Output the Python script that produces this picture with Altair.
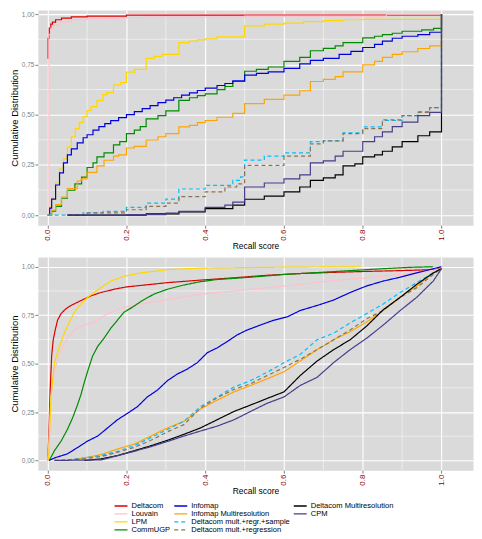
import altair as alt
import pandas as pd

SERIES = ["Deltacom", "Louvain", "LPM", "CommUGP", "Infomap", "Infomap Multiresolution",
          "Deltacom mult.+regr.+sample", "Deltacom mult.+regression",
          "Deltacom Multiresolution", "CPM"]
COLORS = ["#DD0000", "#FFC0CB", "#FFD700", "#008B00", "#0000DD", "#FFA500",
          "#00BFFF", "#8B7355", "#000000", "#483D8B"]
DASHED = ["Deltacom mult.+regr.+sample", "Deltacom mult.+regression"]
LEGEND_ROWS = 4  # ggplot legend: filled column by column, 4 rows

X_MAJOR = [0.0, 0.2, 0.4, 0.6, 0.8, 1.0]
X_MINOR = [0.1, 0.3, 0.5, 0.7, 0.9]
Y_MAJOR = [0.0, 0.25, 0.5, 0.75, 1.0]
Y_MINOR = [0.125, 0.375, 0.625, 0.875]

# ---------------- top panel (step curves) ----------------
TOP_DELTACOM = [(0, 0.78), (0.001, 0.88), (0.004, 0.93), (0.008, 0.95), (0.012, 0.96), (0.02, 0.972),
                (0.035, 0.98), (0.06, 0.986), (0.1, 0.99), (0.2, 0.995), (1.0, 1.0)]
TOP_LOUVAIN = [(0, 0), (0.003, 0.9), (0.008, 0.93), (0.015, 0.945), (0.03, 0.96), (0.06, 0.972),
               (0.1, 0.978), (0.18, 0.982), (0.25, 0.985), (0.5, 0.99), (0.86, 0.997), (1.0, 1.0)]
TOP_LPM = [(0, 0), (0.005, 0.04), (0.01, 0.084), (0.02, 0.16), (0.03, 0.23), (0.04, 0.28), (0.05, 0.34),
           (0.06, 0.39), (0.07, 0.43), (0.08, 0.46), (0.09, 0.49), (0.1, 0.52), (0.11, 0.54), (0.125, 0.57),
           (0.14, 0.6), (0.15, 0.61), (0.167, 0.648), (0.185, 0.66), (0.2, 0.712), (0.22, 0.725),
           (0.25, 0.78), (0.27, 0.79), (0.29, 0.80), (0.333, 0.858), (0.36, 0.866), (0.38, 0.872),
           (0.4, 0.877), (0.43, 0.887), (0.5, 0.942), (0.55, 0.95), (0.6, 0.955), (0.65, 0.963),
           (0.7, 0.968), (0.75, 0.972), (0.8, 0.974), (1.0, 1.0)]
TOP_COMMUGP = [(0, 0), (0.01, 0.02), (0.02, 0.044), (0.035, 0.084), (0.05, 0.124), (0.069, 0.156),
               (0.086, 0.189), (0.1, 0.237), (0.115, 0.26), (0.125, 0.29), (0.143, 0.31), (0.167, 0.35),
               (0.183, 0.366), (0.2, 0.406), (0.22, 0.423), (0.235, 0.44), (0.25, 0.479), (0.28, 0.495),
               (0.3, 0.519), (0.333, 0.571), (0.36, 0.584), (0.38, 0.595), (0.4, 0.603), (0.43, 0.624),
               (0.45, 0.64), (0.47, 0.665), (0.5, 0.716), (0.53, 0.725), (0.56, 0.737), (0.6, 0.765),
               (0.64, 0.785), (0.667, 0.818), (0.7, 0.83), (0.73, 0.842), (0.75, 0.858), (0.8, 0.882),
               (0.83, 0.89), (0.85, 0.898), (0.875, 0.905), (0.9, 0.915), (0.95, 0.922), (0.98, 0.929),
               (1.0, 1.0)]
TOP_INFOMAP = [(0, 0), (0.005, 0.035), (0.01, 0.08), (0.02, 0.15), (0.03, 0.21), (0.04, 0.26), (0.05, 0.3),
               (0.06, 0.33), (0.075, 0.36), (0.09, 0.385), (0.1, 0.4), (0.115, 0.423), (0.13, 0.44),
               (0.145, 0.455), (0.16, 0.47), (0.18, 0.485), (0.2, 0.5), (0.22, 0.515), (0.24, 0.53),
               (0.26, 0.545), (0.28, 0.56), (0.3, 0.572), (0.32, 0.584), (0.34, 0.597), (0.36, 0.608),
               (0.38, 0.62), (0.4, 0.632), (0.43, 0.645), (0.45, 0.655), (0.47, 0.668), (0.5, 0.697),
               (0.53, 0.705), (0.56, 0.713), (0.6, 0.73), (0.64, 0.753), (0.667, 0.77), (0.7, 0.78),
               (0.74, 0.80), (0.77, 0.815), (0.8, 0.834), (0.83, 0.85), (0.85, 0.866), (0.875, 0.88),
               (0.9, 0.89), (0.94, 0.898), (0.97, 0.91), (1.0, 1.0)]
TOP_INFOMAP_MULTI = [(0, 0), (0.01, 0.025), (0.02, 0.052), (0.035, 0.09), (0.05, 0.132), (0.075, 0.17),
                     (0.085, 0.18), (0.1, 0.213), (0.125, 0.245), (0.143, 0.273), (0.167, 0.294),
                     (0.18, 0.3), (0.2, 0.334), (0.22, 0.342), (0.25, 0.374), (0.28, 0.39), (0.3, 0.406),
                     (0.333, 0.439), (0.36, 0.447), (0.38, 0.46), (0.4, 0.471), (0.43, 0.487),
                     (0.47, 0.506), (0.5, 0.555), (0.55, 0.576), (0.6, 0.597), (0.64, 0.619),
                     (0.667, 0.665), (0.7, 0.675), (0.73, 0.689), (0.75, 0.713), (0.8, 0.748),
                     (0.83, 0.765), (0.85, 0.785), (0.875, 0.8), (0.9, 0.813), (0.94, 0.829),
                     (0.97, 0.842), (1.0, 1.0)]
TOP_DM_REGR_SAMPLE = [(0, 0), (0.09, 0.011), (0.14, 0.019), (0.2, 0.039), (0.25, 0.06), (0.3, 0.08),
                      (0.333, 0.13), (0.4, 0.148), (0.47, 0.173), (0.49, 0.19), (0.5, 0.274), (0.55, 0.294),
                      (0.6, 0.31), (0.667, 0.366), (0.7, 0.37), (0.75, 0.41), (0.8, 0.439), (0.85, 0.471),
                      (0.9, 0.495), (0.94, 0.515), (0.97, 0.535), (1.0, 1.0)]
TOP_DM_REGR = [(0.05, 0), (0.1, 0.011), (0.2, 0.027), (0.25, 0.044), (0.3, 0.06), (0.333, 0.092),
               (0.4, 0.116), (0.45, 0.14), (0.48, 0.156), (0.5, 0.248), (0.6, 0.294), (0.667, 0.355),
               (0.7, 0.37), (0.75, 0.406), (0.8, 0.43), (0.85, 0.474), (0.9, 0.495), (0.94, 0.511),
               (0.97, 0.535), (1.0, 1.0)]
TOP_DM = [(0.05, 0), (0.25, 0.006), (0.333, 0.016), (0.4, 0.032), (0.47, 0.05), (0.5, 0.079),
          (0.55, 0.095), (0.6, 0.116), (0.64, 0.14), (0.667, 0.173), (0.7, 0.185), (0.73, 0.2),
          (0.75, 0.245), (0.78, 0.255), (0.8, 0.29), (0.83, 0.3), (0.85, 0.318), (0.875, 0.34),
          (0.9, 0.366), (0.94, 0.395), (0.97, 0.414), (1.0, 1.0)]
TOP_CPM = [(0.05, 0), (0.2, 0.003), (0.3, 0.01), (0.333, 0.019), (0.4, 0.039), (0.45, 0.05),
           (0.47, 0.065), (0.5, 0.14), (0.55, 0.16), (0.6, 0.18), (0.64, 0.2), (0.667, 0.26),
           (0.7, 0.27), (0.73, 0.294), (0.75, 0.318), (0.8, 0.366), (0.83, 0.39), (0.85, 0.414),
           (0.875, 0.44), (0.9, 0.463), (0.94, 0.495), (0.97, 0.511), (1.0, 1.0)]

# ---------------- bottom panel ----------------
BOT_DELTACOM = [(0, 0), (0.003, 0.135), (0.006, 0.354), (0.01, 0.539), (0.014, 0.623), (0.019, 0.673),
                (0.025, 0.724), (0.034, 0.758), (0.046, 0.783), (0.059, 0.80), (0.084, 0.825),
                (0.11, 0.85), (0.135, 0.867), (0.169, 0.884), (0.2, 0.896), (0.262, 0.909),
                (0.304, 0.918), (0.388, 0.931), (0.473, 0.943), (0.557, 0.956), (0.641, 0.965),
                (0.726, 0.971), (0.81, 0.976), (0.895, 0.98), (0.979, 0.985), (1.0, 0.99)]
BOT_LOUVAIN = [(0, 0), (0.004, 0.135), (0.008, 0.32), (0.015, 0.438), (0.025, 0.52), (0.038, 0.589),
               (0.05, 0.631), (0.067, 0.673), (0.093, 0.699), (0.118, 0.715), (0.152, 0.758),
               (0.194, 0.791), (0.236, 0.808), (0.287, 0.825), (0.346, 0.845), (0.405, 0.862),
               (0.473, 0.875), (0.557, 0.892), (0.641, 0.909), (0.726, 0.929), (0.81, 0.943),
               (0.895, 0.96), (0.962, 0.976), (1.0, 0.99)]
BOT_LPM = [(0, 0), (0.003, 0.034), (0.004, 0.1), (0.008, 0.32), (0.017, 0.505), (0.03, 0.589),
           (0.042, 0.657), (0.055, 0.715), (0.068, 0.766), (0.084, 0.808), (0.101, 0.842),
           (0.118, 0.867), (0.135, 0.892), (0.16, 0.926), (0.194, 0.951), (0.236, 0.968),
           (0.304, 0.985), (0.388, 0.993), (0.608, 0.998), (0.795, 1.0)]
BOT_COMMUGP = [(0.004, 0), (0.017, 0.05), (0.034, 0.10), (0.05, 0.16), (0.063, 0.219), (0.074, 0.278),
               (0.084, 0.337), (0.093, 0.404), (0.103, 0.471), (0.114, 0.539), (0.127, 0.589),
               (0.143, 0.631), (0.16, 0.682), (0.177, 0.724), (0.194, 0.766), (0.215, 0.791),
               (0.24, 0.825), (0.27, 0.859), (0.304, 0.884), (0.346, 0.906), (0.388, 0.923),
               (0.43, 0.934), (0.515, 0.946), (0.6, 0.96), (0.684, 0.97), (0.768, 0.98),
               (0.852, 0.99), (0.92, 0.997), (0.979, 1.0)]
BOT_INFOMAP = [(0.004, 0), (0.017, 0.013), (0.05, 0.034), (0.076, 0.067), (0.101, 0.10), (0.127, 0.126),
               (0.152, 0.168), (0.177, 0.21), (0.203, 0.244), (0.228, 0.278), (0.253, 0.328),
               (0.278, 0.362), (0.304, 0.412), (0.329, 0.446), (0.354, 0.471), (0.38, 0.505),
               (0.405, 0.556), (0.43, 0.581), (0.456, 0.614), (0.481, 0.648), (0.506, 0.673),
               (0.54, 0.699), (0.574, 0.724), (0.608, 0.741), (0.641, 0.774), (0.684, 0.80),
               (0.726, 0.828), (0.768, 0.867), (0.81, 0.901), (0.852, 0.926), (0.895, 0.946),
               (0.937, 0.968), (0.979, 0.99), (1.0, 1.0)]
BOT_INFOMAP_MULTI = [(0.05, 0), (0.093, 0.013), (0.135, 0.03), (0.177, 0.059), (0.219, 0.084),
                     (0.262, 0.126), (0.304, 0.168), (0.346, 0.202), (0.388, 0.266), (0.43, 0.311),
                     (0.473, 0.354), (0.515, 0.387), (0.557, 0.421), (0.6, 0.458), (0.641, 0.513),
                     (0.684, 0.572), (0.726, 0.623), (0.768, 0.665), (0.81, 0.715), (0.852, 0.774),
                     (0.895, 0.842), (0.937, 0.90), (0.979, 0.968), (1.0, 0.99)]
BOT_DM_REGR_SAMPLE = [(0.05, 0.003), (0.093, 0.013), (0.135, 0.025), (0.177, 0.047), (0.219, 0.076),
                      (0.262, 0.118), (0.304, 0.16), (0.346, 0.202), (0.388, 0.278), (0.43, 0.328),
                      (0.473, 0.379), (0.515, 0.412), (0.557, 0.455), (0.6, 0.505), (0.641, 0.547),
                      (0.684, 0.623), (0.726, 0.657), (0.768, 0.71), (0.81, 0.758), (0.852, 0.808),
                      (0.895, 0.867), (0.937, 0.918), (0.979, 0.968), (1.0, 0.99)]
BOT_DM_REGR = [(0.017, 0), (0.093, 0.008), (0.135, 0.02), (0.177, 0.042), (0.219, 0.067), (0.262, 0.104),
               (0.304, 0.148), (0.346, 0.185), (0.388, 0.27), (0.43, 0.323), (0.473, 0.367),
               (0.515, 0.396), (0.557, 0.438), (0.6, 0.48), (0.641, 0.522), (0.684, 0.572),
               (0.726, 0.623), (0.768, 0.673), (0.81, 0.732), (0.852, 0.774), (0.895, 0.842),
               (0.937, 0.892), (0.979, 0.96), (1.0, 0.99)]
BOT_DM = [(0.093, 0), (0.135, 0.008), (0.177, 0.025), (0.219, 0.05), (0.262, 0.076), (0.304, 0.104),
          (0.346, 0.135), (0.388, 0.168), (0.43, 0.21), (0.473, 0.253), (0.515, 0.286), (0.557, 0.32),
          (0.6, 0.354), (0.641, 0.438), (0.684, 0.513), (0.726, 0.572), (0.768, 0.623), (0.81, 0.694),
          (0.852, 0.778), (0.895, 0.842), (0.937, 0.909), (0.979, 0.968), (1.0, 0.99)]
BOT_CPM = [(0.017, 0), (0.135, 0.003), (0.177, 0.025), (0.219, 0.047), (0.262, 0.071), (0.304, 0.098),
           (0.346, 0.126), (0.388, 0.152), (0.43, 0.177), (0.473, 0.21), (0.515, 0.253), (0.557, 0.295),
           (0.6, 0.328), (0.641, 0.387), (0.684, 0.429), (0.726, 0.505), (0.768, 0.572), (0.81, 0.631),
           (0.852, 0.699), (0.895, 0.774), (0.937, 0.842), (0.979, 0.926), (1.0, 0.99)]

TOP = [TOP_DELTACOM, TOP_LOUVAIN, TOP_LPM, TOP_COMMUGP, TOP_INFOMAP, TOP_INFOMAP_MULTI,
       TOP_DM_REGR_SAMPLE, TOP_DM_REGR, TOP_DM, TOP_CPM]
BOT = [BOT_DELTACOM, BOT_LOUVAIN, BOT_LPM, BOT_COMMUGP, BOT_INFOMAP, BOT_INFOMAP_MULTI,
       BOT_DM_REGR_SAMPLE, BOT_DM_REGR, BOT_DM, BOT_CPM]


def frame(curves):
    rows = []
    for s, pts in zip(SERIES, curves):
        for x, y in pts:
            rows.append({"series": s, "x": x, "y": y, "i": len(rows)})
    return pd.DataFrame(rows)


FONT = "Liberation Sans"
XDOM = [-0.025, 1.08]
PLOT_W = 437

color_enc = alt.Color("series:N", scale=alt.Scale(domain=SERIES, range=COLORS), legend=None)
dash_enc = alt.StrokeDash("series:N", scale=alt.Scale(
    domain=SERIES, range=[[4, 3] if s in DASHED else [1, 0] for s in SERIES]), legend=None)
PANEL_BG = alt.ViewBackground(fill="#DADADA", stroke="transparent")


def panel(df, interp, height, ydom):
    xenc = alt.X("x:Q", scale=alt.Scale(domain=XDOM, nice=False, zero=False),
                 axis=alt.Axis(values=X_MAJOR, format=".1f", labelAngle=270, title="Recall score",
                               labelColor="#8B0000", labelFontSize=8, titleFontSize=8.5,
                               titlePadding=1, labelPadding=1))
    yenc = alt.Y("y:Q", scale=alt.Scale(domain=ydom, nice=False, zero=False),
                 axis=alt.Axis(values=Y_MAJOR,
                               labelExpr="replace(format(datum.value, '.2f'), '.', ',')",
                               title="Cumulative Distribution", labelColor="#7F7F7F",
                               labelFontSize=6.5, titleFontSize=9.5, titlePadding=2,
                               labelPadding=1))
    xminor = alt.Chart(pd.DataFrame({"x": X_MINOR})).mark_rule(
        color="white", strokeWidth=0.5).encode(x=xenc)
    yminor = alt.Chart(pd.DataFrame({"y": Y_MINOR})).mark_rule(
        color="white", strokeWidth=0.5).encode(y=yenc)
    lines = alt.Chart(df).mark_line(interpolate=interp, strokeWidth=1.2, clip=True).encode(
        x=xenc, y=yenc, color=color_enc, strokeDash=dash_enc, order=alt.Order("i:Q"),
    )
    return alt.layer(xminor, yminor, lines).properties(width=PLOT_W, height=height, view=PANEL_BG)


# ---------------- legend (column-wise, like ggplot) ----------------
leg_df = pd.DataFrame({
    "series": SERIES,
    "col": [i // LEGEND_ROWS for i in range(len(SERIES))],
    "row": [i % LEGEND_ROWS for i in range(len(SERIES))],
})
leg_x = alt.X("col:Q", scale=alt.Scale(domain=[0, 1, 2], range=[77, 137, 257]), axis=None)
leg_y = alt.Y("row:Q", scale=alt.Scale(domain=[0, 3], range=[4, 28]), axis=None)
leg_lines = alt.Chart(leg_df).mark_rule(strokeWidth=1.3, x2Offset=13).encode(
    x=leg_x, x2="col:Q", y=leg_y, color=color_enc, strokeDash=dash_enc)
leg_text = alt.Chart(leg_df).mark_text(align="left", baseline="middle", dx=17, fontSize=7.6,
                                       font=FONT, color="#000000").encode(
    x=leg_x, y=leg_y, text="series:N")
legend_chart = alt.layer(leg_lines, leg_text).properties(
    width=PLOT_W, height=31, view=alt.ViewBackground(stroke="transparent"))

top = panel(frame(TOP), "step-after", 216, [-0.05, 1.02])
bottom = panel(frame(BOT), "linear", 214, [-0.05, 1.05])

chart = alt.vconcat(top, bottom, legend_chart, spacing=5).properties(padding=0).configure_axis(
    grid=True, gridColor="white", gridWidth=1.1, domain=False,
    tickColor="#7F7F7F", tickSize=3, labelFont=FONT, titleFont=FONT,
    titleColor="#000000", titleFontWeight="normal"
)

chart.save("out.html", embed_options={"renderer": "svg", "actions": False})
